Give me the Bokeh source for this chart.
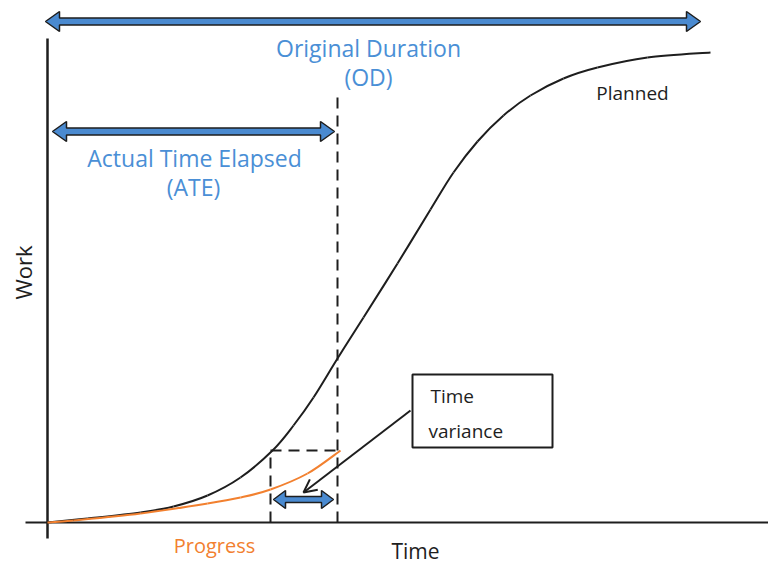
from bokeh.plotting import figure
from bokeh.models import Range1d, Arrow, OpenHead
from bokeh.core.properties import value
from bokeh.embed import file_html
from bokeh.resources import INLINE
import math

# ---------------- data (time, work) ----------------
planned_t = [0, 40, 93, 126, 160, 193, 225, 246, 266, 290, 316, 350, 383, 406, 430, 456, 483, 516, 550, 600, 663]
planned_w = [0, 4, 10, 16, 27, 45, 72, 97, 125, 164, 205, 259, 313, 350, 381, 407, 427, 444, 455, 465, 470]

progress_t = [0, 26, 93, 160, 193, 223, 260, 293]
progress_w = [0, 2, 9, 19, 25, 33, 49, 72]

ATE = 290            # actual time elapsed (dashed marker)
VAR_START = 223      # time at which planned work equals current progress
PROGRESS_LEVEL = 72  # current work level

od_arrow = dict(t0=-2, t1=653, w=501)
ate_arrow = dict(t0=5, t1=287, w=391)
var_arrow = dict(t0=226, t1=286, w=23)

box = dict(left=365, right=505, bottom=75, top=148)
pointer = dict(t0=363, w0=112, t1=256, w1=30)

labels_blue = ["Original Duration", "(OD)", "Actual Time Elapsed", "(ATE)"]
labels_blue_t = [321, 321, 147, 146]
labels_blue_w = [475, 446, 365, 336]

BLUE = "#4a8fd6"
ARROW_FILL = "#4a8ad0"
ORANGE = "#f2802f"
INK = "#1e1e1e"
FONT = value("Open Sans")

# ---------------- figure ----------------
p = figure(width=768, height=565, output_backend="svg", toolbar_location=None,
           x_range=Range1d(-47, 721), y_range=Range1d(-43, 522),
           x_axis_location=None, y_axis_location=None, min_border=0)
p.outline_line_color = None
p.grid.visible = False
p.background_fill_color = "white"
p.border_fill_color = "white"

# axes
p.line(x=[0, 0], y=[-16, 484], line_color=INK, line_width=2.5)
p.line(x=[-22, 721], y=[0, 0], line_color=INK, line_width=2)

# dashed guides
p.line(x=[ATE, ATE], y=[0, 425], line_color=INK, line_width=2, line_dash="11 7")
p.line(x=[VAR_START, VAR_START], y=[0, PROGRESS_LEVEL], line_color=INK, line_width=2, line_dash="11 7")
p.line(x=[VAR_START, ATE], y=[PROGRESS_LEVEL, PROGRESS_LEVEL], line_color=INK, line_width=2, line_dash="11 7")

# smooth curves through the data points (Catmull-Rom rendered as Bezier segments)
def smooth_segments(xs, ys):
    n = len(xs)
    out = {k: [] for k in ("x0", "y0", "x1", "y1", "cx0", "cy0", "cx1", "cy1")}
    for i in range(n - 1):
        i0, i3 = max(i - 1, 0), min(i + 2, n - 1)
        out["x0"].append(xs[i]); out["y0"].append(ys[i])
        out["x1"].append(xs[i + 1]); out["y1"].append(ys[i + 1])
        out["cx0"].append(xs[i] + (xs[i + 1] - xs[i0]) / 6)
        out["cy0"].append(ys[i] + (ys[i + 1] - ys[i0]) / 6)
        out["cx1"].append(xs[i + 1] - (xs[i3] - xs[i]) / 6)
        out["cy1"].append(ys[i + 1] - (ys[i3] - ys[i]) / 6)
    return out

p.bezier(**smooth_segments(planned_t, planned_w), line_color=INK, line_width=2)
p.bezier(**smooth_segments(progress_t, progress_w), line_color=ORANGE, line_width=2)

# double arrows (outlined polygons)
def dbl_arrow(t0, t1, w, sh, hl, hh):
    xs = [t0, t0 + hl, t0 + hl, t1 - hl, t1 - hl, t1, t1 - hl, t1 - hl, t0 + hl, t0 + hl]
    ys = [w, w + hh, w + sh, w + sh, w + hh, w, w - hh, w - sh, w - sh, w - hh]
    return xs, ys

xs_list, ys_list = [], []
for a, (sh, hl, hh) in [(od_arrow, (3.5, 14, 10)), (ate_arrow, (3.5, 14, 10)), (var_arrow, (3, 12, 9))]:
    xs, ys = dbl_arrow(a["t0"], a["t1"], a["w"], sh, hl, hh)
    xs_list.append(xs)
    ys_list.append(ys)
p.patches(xs=xs_list, ys=ys_list, fill_color=ARROW_FILL, line_color=INK, line_width=1.5)

# time variance box
p.quad(left=[box["left"]], right=[box["right"]], bottom=[box["bottom"]], top=[box["top"]],
       fill_color="white", line_color=INK, line_width=2)
p.add_layout(Arrow(x_start=pointer["t0"], y_start=pointer["w0"], x_end=pointer["t1"], y_end=pointer["w1"],
                   line_color=INK, line_width=2,
                   end=OpenHead(size=13, line_color=INK, line_width=2)))

# texts
p.text(x=labels_blue_t, y=labels_blue_w, text=labels_blue, text_color=BLUE,
       text_font=FONT, text_font_size="23px", text_align="center", text_baseline="middle")
p.text(x=[585], y=[430], text=["Planned"], text_color=INK, text_font=FONT,
       text_font_size="19px", text_align="center", text_baseline="middle")
p.text(x=[368], y=[-28], text=["Time"], text_color=INK, text_font=FONT,
       text_font_size="21px", text_align="center", text_baseline="middle")
p.text(x=[167], y=[-23], text=["Progress"], text_color=ORANGE, text_font=FONT,
       text_font_size="20px", text_align="center", text_baseline="middle")
p.text(x=[-25], y=[250], text=["Work"], text_color=INK, text_font=FONT, angle=math.pi / 2,
       text_font_size="22px", text_align="center", text_baseline="middle")
p.text(x=[383, 381], y=[127, 92], text=["Time", "variance"], text_color=INK, text_font=FONT,
       text_font_size="19px", text_align="left", text_baseline="middle")

open("out.html", "w").write(file_html(p, INLINE))
